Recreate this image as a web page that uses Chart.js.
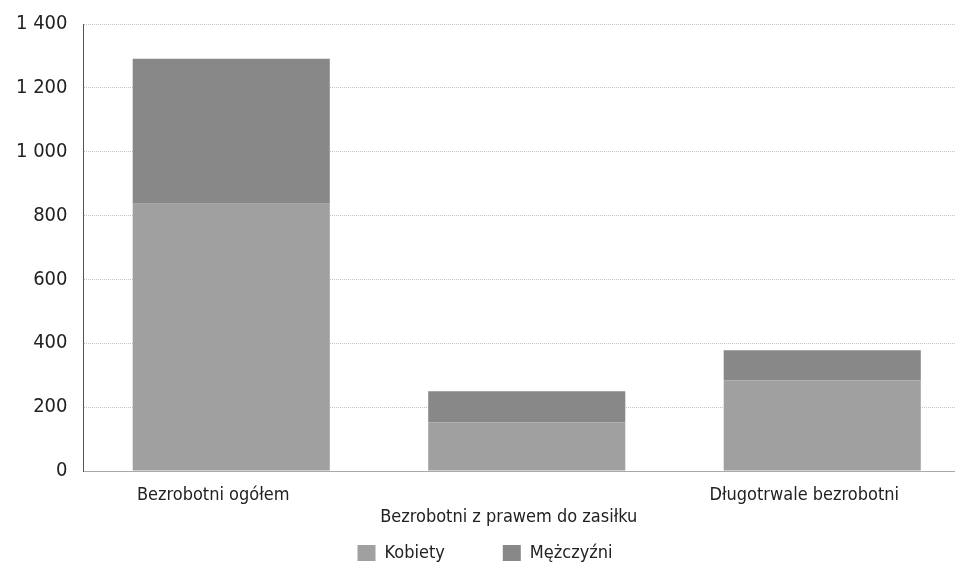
<!DOCTYPE html>
<html><head><meta charset="utf-8">
<script src="https://cdn.jsdelivr.net/npm/chart.js@4"></script>
<style>html,body{margin:0;padding:0;background:#fff;overflow:hidden;width:955px;height:571px}#wrap{width:970px;height:571px;position:relative}</style>
</head><body><div id="wrap"><canvas id="c"></canvas></div>
<script>
const categories = [["Bezrobotni ogółem"], ["", "Bezrobotni z prawem do zasiłku"], ["Długotrwale bezrobotni"]];
const seriesNames = ["Kobiety", "Mężczyźni"];
const kobiety = [837, 153, 284];
const mezczyzni = [454, 97, 94];
const yTicks = [0, 200, 400, 600, 800, 1000, 1200, 1400];

const font = "'DejaVu Sans Condensed', 'DejaVu Sans', Verdana, sans-serif";
new Chart(document.getElementById('c'), {
  type: 'bar',
  data: {
    labels: categories,
    datasets: [
      {label: seriesNames[0], data: kobiety, backgroundColor: '#a0a0a0', borderWidth: 0},
      {label: seriesNames[1], data: mezczyzni, backgroundColor: '#888888', borderWidth: 0}
    ]
  },
  options: {
    responsive: true, maintainAspectRatio: false, animation: false,
    layout: {padding: {top: 0, right: 0, left: 0, bottom: 0}},
    datasets: {bar: {barPercentage: 0.667, categoryPercentage: 1}},
    plugins: {
      legend: {position: 'bottom', maxHeight: 85,
               labels: {font: {family: font, size: 18}, color: '#222', boxWidth: 18, boxHeight: 16, padding: 58}},
      tooltip: {enabled: false}
    },
    scales: {
      x: {stacked: true,
          afterFit: s => { s.height = 15; s._computeLabelArea = () => undefined; },
          grid: {display: false},
          border: {color: '#aaa', dash: [1, 1]},
          ticks: {font: {family: font, size: 18, lineHeight: 1.2}, color: '#222', maxRotation: 0, autoSkip: false, labelOffset: -18, padding: 6}},
      y: {stacked: true, min: 0, max: 1400,
          afterBuildTicks: ax => { ax.ticks = yTicks.map(v => ({value: v})); },
          grid: {color: '#c4c4c4', tickLength: 0},
          border: {color: '#555', dash: [1, 1]},
          ticks: {font: {family: font, size: 20, lineHeight: 0.8}, color: '#222', padding: 16,
                  callback: v => String(v).replace(/\B(?=(\d{3})+(?!\d))/g, ' ')}}
    }
  },
  plugins: [{
    id: 'dotgrid',
    beforeDraw(chart) { chart.scales.y.options.grid.borderDash = [1, 2]; }
  }]
});
</script></body></html>
